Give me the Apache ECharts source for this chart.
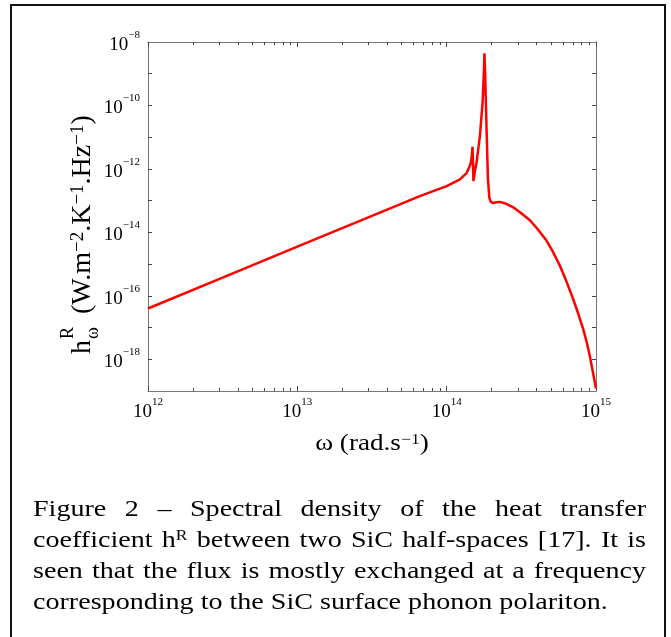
<!DOCTYPE html>
<html><head><meta charset="utf-8">
<script src="https://cdn.jsdelivr.net/npm/echarts@6/dist/echarts.min.js"></script>
<style>html,body{margin:0;padding:0;background:#fff}#c{width:671px;height:637px}</style>
</head><body><div id="c"></div>
<script>
// angular frequency ω (rad/s)
const omega = [1e12, 3.16e12, 1e13, 3.16e13, 6.61e13, 1e14, 1.22e14, 1.36e14, 1.44e14, 1.47e14,
  1.49e14, 1.503e14, 1.51e14, 1.55e14, 1.585e14, 1.67e14, 1.74e14, 1.78e14, 1.79e14, 1.81e14,
  1.85e14, 1.89e14, 1.93e14, 1.97e14, 2.05e14, 2.14e14, 2.27e14, 2.51e14, 2.79e14, 3.16e14,
  3.61e14, 4.07e14, 4.66e14, 5.13e14, 5.73e14, 6.31e14, 7.03e14, 7.59e14, 8.20e14, 8.71e14,
  9.08e14, 9.44e14, 1e15];
// spectral heat transfer coefficient h^R_ω (W.m^-2.K^-1.Hz^-1)
const hR = [3.98e-17, 3.72e-16, 3.55e-15, 3.31e-14, 1.38e-13, 2.88e-13, 4.57e-13, 7.41e-13, 1.35e-12, 2.24e-12,
  5.01e-12, 1.26e-12, 4.17e-13, 8.91e-13, 1.58e-12, 1.10e-11, 1.23e-10, 1.58e-9, 4.37e-9, 1e-9,
  1.78e-11, 4.79e-13, 1.26e-13, 9.33e-14, 8.32e-14, 8.91e-14, 9.12e-14, 7.94e-14, 6.17e-14, 3.98e-14,
  2.40e-14, 1.26e-14, 5.50e-15, 2.51e-15, 8.91e-16, 3.02e-16, 7.94e-17, 2.82e-17, 9.12e-18, 3.16e-18,
  1.32e-18, 5.01e-19, 1.20e-19];
const xMajorTicks = [1e12, 1e13, 1e14, 0.99999e15];
const xMinorTicks = [2e12,3e12,4e12,5e12,6e12,7e12,8e12,9e12, 2e13,3e13,4e13,5e13,6e13,7e13,8e13,9e13, 2e14,3e14,4e14,5e14,6e14,7e14,8e14,9e14];
const yTicks = [1e-18,1e-17,1e-16,1e-15,1e-14,1e-13,1e-12,1e-11,1e-10,1e-9];
const yLabelValues = [1e-18,1e-16,1e-14,1e-12,1e-10,1e-8];
const captionLines = [
  ['Figure','2','–','Spectral','density','of','the','heat','transfer'],
  ['coefficient','h^R','between','two','SiC','half-spaces','[17].','It','is'],
  ['seen','that','the','flux','is','mostly','exchanged','at','a','frequency'],
  ['corresponding','to','the','SiC','surface','phonon','polariton.']
];

const FF = '"Liberation Serif", "Times New Roman", serif';
function powLabel(v){
  const e = Math.round(Math.log10(v));
  return '{b|10}{s|' + String(e).replace('-', '−') + '}';
}
const labelRich = {
  b:{fontFamily:FF, fontSize:19, color:'#000', padding:[6,0,0,0]},
  s:{fontFamily:FF, fontSize:11, color:'#000', verticalAlign:'top'}
};
const axisLineStyle = {show:true, lineStyle:{color:'#777', width:1}};

// caption layout (justified)
const CAP_FS = 24, CAP_SUP = 15, CAP_SX = 1.17;
const cv = document.createElement('canvas').getContext('2d');
function wWidth(w){
  if (w.indexOf('^') >= 0){
    const p = w.split('^');
    cv.font = CAP_FS + 'px ' + FF; const a = cv.measureText(p[0]).width;
    cv.font = CAP_SUP + 'px ' + FF; return (a + cv.measureText(p[1]).width) * CAP_SX;
  }
  cv.font = CAP_FS + 'px ' + FF; return cv.measureText(w).width * CAP_SX;
}
const capGraphics = [];
const capLeft = 33, capRight = 646, capY = [510, 541, 572, 603];
captionLines.forEach((words, li) => {
  const widths = words.map(wWidth);
  const total = widths.reduce((a,b)=>a+b,0);
  const last = li === captionLines.length - 1;
  cv.font = CAP_FS + 'px ' + FF;
  const gap = last ? cv.measureText(' ').width * CAP_SX : (capRight - capLeft - total) / (words.length - 1);
  let x = capLeft;
  words.forEach((w, i) => {
    let txt = w, rich;
    if (w.indexOf('^') >= 0){
      const p = w.split('^');
      txt = '{n|' + p[0] + '}{s|' + p[1] + '}';
      rich = {n:{fontFamily:FF, fontSize:CAP_FS, fill:'#000'}, s:{fontFamily:FF, fontSize:CAP_SUP, fill:'#000', verticalAlign:'top'}};
    }
    capGraphics.push({type:'text', x:x, y:capY[li], scaleX:CAP_SX, silent:true,
      style:{text:txt, rich:rich, font:CAP_FS + 'px ' + FF, fill:'#000', align:'left', verticalAlign:'middle'}});
    x += widths[i] + gap;
  });
});

const chart = echarts.init(document.getElementById('c'), null, {renderer:'canvas'});
const xBase = {type:'log', logBase:10, min:1e12, max:1e15, splitLine:{show:false}, gridIndex:0};
const yBase = {type:'log', logBase:10, min:1e-19, max:1e-8, splitLine:{show:false}, gridIndex:0};
chart.setOption({
  animation:false,
  backgroundColor:'#fff',
  grid:{left:148, top:42, width:448, height:349, containLabel:false},
  xAxis:[
    Object.assign({}, xBase, {position:'bottom', axisLine:axisLineStyle,
      axisTick:{show:true, inside:true, length:5, lineStyle:{color:'#444'}, customValues:xMajorTicks},
      axisLabel:{show:true, margin:6, customValues:xMajorTicks, formatter:powLabel, rich:labelRich}}),
    Object.assign({}, xBase, {position:'bottom', axisLine:{show:false},
      axisTick:{show:true, inside:true, length:3, lineStyle:{color:'#444'}, customValues:xMinorTicks},
      axisLabel:{show:false}}),
    Object.assign({}, xBase, {position:'top', axisLine:axisLineStyle,
      axisTick:{show:true, inside:true, length:5, lineStyle:{color:'#444'}, customValues:xMajorTicks},
      axisLabel:{show:false}}),
    Object.assign({}, xBase, {position:'top', axisLine:{show:false},
      axisTick:{show:true, inside:true, length:3, lineStyle:{color:'#444'}, customValues:xMinorTicks},
      axisLabel:{show:false}})
  ],
  yAxis:[
    Object.assign({}, yBase, {position:'left', axisLine:axisLineStyle,
      axisTick:{show:true, inside:true, length:4, lineStyle:{color:'#444'}, customValues:yTicks},
      axisLabel:{show:true, margin:8, customValues:yLabelValues, formatter:powLabel, rich:labelRich}}),
    Object.assign({}, yBase, {position:'right', axisLine:axisLineStyle,
      axisTick:{show:true, inside:true, length:4, lineStyle:{color:'#444'}, customValues:yTicks},
      axisLabel:{show:false}})
  ],
  series:[{
    type:'line', xAxisIndex:0, yAxisIndex:0,
    data: omega.map((w,i)=>[w, hR[i]]),
    showSymbol:false, symbol:'none', smooth:false,
    lineStyle:{color:'#ff0000', width:2.5}, clip:true
  }],
  graphic:[
    {type:'rect', shape:{x:11, y:5, width:654, height:640}, style:{fill:'none', stroke:'#111', lineWidth:2}, silent:true},
    {type:'group', x:83, y:354, rotation:Math.PI/2, silent:true, children:[
      {type:'text', x:0, y:0, style:{text:'h', font:'28px ' + FF, fill:'#000', align:'left', verticalAlign:'middle'}},
      {type:'text', x:15, y:-15, style:{text:'R', font:'18px ' + FF, fill:'#000', align:'left', verticalAlign:'middle'}},
      {type:'text', x:15, y:10, style:{text:'ω', font:'18px ' + FF, fill:'#000', align:'left', verticalAlign:'middle'}},
      {type:'text', x:40, y:0, style:{text:'(W.m{s|−2}.K{s|−1}.Hz{s|−1})', font:'28px ' + FF, fill:'#000', align:'left', verticalAlign:'middle',
        rich:{s:{fontFamily:FF, fontSize:19, fill:'#000', verticalAlign:'top'}}}}
    ]},
    {type:'text', x:372, y:444, scaleX:1.18, silent:true,
      style:{text:'ω (rad.s{s|−1})', font:'23px ' + FF, fill:'#000', align:'center', verticalAlign:'middle',
        rich:{s:{fontFamily:FF, fontSize:15, fill:'#000', verticalAlign:'top'}}}}
  ].concat(capGraphics)
});
</script></body></html>
